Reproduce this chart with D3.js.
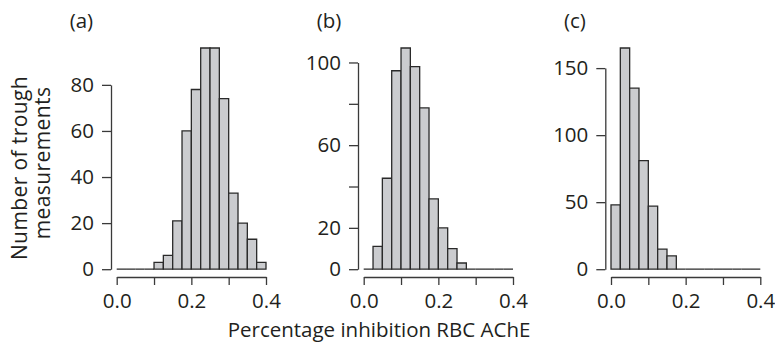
<!DOCTYPE html>
<html>
<head>
<meta charset="utf-8">
<script src="https://cdn.jsdelivr.net/npm/d3@7"></script>
<style>
  body { margin: 0; background: #fff; }
  text { font-family: "Open Sans", sans-serif; fill: #231f20; }
</style>
</head>
<body>
<div id="chart"></div>
<script>
// histogram bins (left edges), width 0.025
const bins = [0, 0.025, 0.05, 0.075, 0.1, 0.125, 0.15, 0.175, 0.2, 0.225, 0.25, 0.275, 0.3, 0.325, 0.35, 0.375];
const binWidth = 0.025;

const countsA = [0, 0, 0, 0, 3, 6, 21, 60, 78, 96, 96, 74, 33, 20, 13, 3];
const countsB = [0, 11, 44, 96, 107, 98, 78, 34, 20, 10, 3, 0, 0, 0, 0, 0];
const countsC = [48, 165, 135, 81, 47, 15, 10, 0, 0, 0, 0, 0, 0, 0, 0, 0];

const panelLabels = ["(a)", "(b)", "(c)"];

const yTicksA = [0, 20, 40, 60, 80];
const yLabelsA = ["0", "20", "40", "60", "80"];
const yTicksB = [0, 20, 40, 60, 80, 100];
const yLabelsB = ["0", "20", "", "60", "", "100"];
const yTicksC = [0, 50, 100, 150];
const yLabelsC = ["0", "50", "100", "150"];

const xTicks = [0, 0.1, 0.2, 0.3, 0.4];
const xLabels = ["0.0", "", "0.2", "", "0.4"];

const width = 775, height = 342;
const panelLeft = [116.7, 363.7, 611];
const panelW = 149.3;
const yZero = 269.2, yTop = 48;
const xAxisY = 277;
const fontSize = "20.5px";

const svg = d3.select("#chart").append("svg")
    .attr("width", width)
    .attr("height", height);

const panels = [
    {counts: countsA, ticks: yTicksA, labels: yLabelsA},
    {counts: countsB, ticks: yTicksB, labels: yLabelsB},
    {counts: countsC, ticks: yTicksC, labels: yLabelsC}
];

panels.forEach((p, i) => {
    const g = svg.append("g");
    const x0 = panelLeft[i];

    const xScale = d3.scaleLinear()
        .domain([0, 0.4])
        .range([x0, x0 + panelW]);

    const yScale = d3.scaleLinear()
        .domain([0, d3.max(p.counts)])
        .range([yZero, yTop]);

    // bars as paths so empty bins still show as a line on zero
    g.selectAll(".bar")
        .data(bins.map((b, j) => ({x: b, n: p.counts[j]})))
        .enter()
        .append("path")
        .attr("class", "bar")
        .attr("d", d => {
            const l = xScale(d.x), r = xScale(d.x + binWidth);
            return `M${l},${yScale(0)}V${yScale(d.n)}H${r}V${yScale(0)}Z`;
        })
        .attr("fill", "#cbcccf")
        .attr("stroke", "#2a2a2a")
        .attr("stroke-width", 1.3)
        .attr("stroke-linejoin", "miter");

    // y axis: only spans 0 .. last tick
    const topTick = p.ticks[p.ticks.length - 1];
    const yAxisScale = d3.scaleLinear()
        .domain([0, topTick])
        .range([yScale(0), yScale(topTick)]);

    const yAxis = d3.axisLeft(yAxisScale)
        .tickValues(p.ticks)
        .tickFormat((d, k) => p.labels[k])
        .tickSize(9)
        .tickPadding(8)
        .tickSizeOuter(0);

    g.append("g")
        .attr("transform", `translate(${x0 - 5.7},0)`)
        .call(yAxis)
        .call(a => a.selectAll("path, line").attr("stroke", "#3a3a3a").attr("stroke-width", 1.3))
        .call(a => a.selectAll("text").style("font-size", fontSize).style("font-family", "Open Sans"));

    const xAxis = d3.axisBottom(xScale)
        .tickValues(xTicks)
        .tickFormat((d, k) => xLabels[k])
        .tickSize(8)
        .tickPadding(8.5)
        .tickSizeOuter(0);

    g.append("g")
        .attr("transform", `translate(0,${xAxisY})`)
        .call(xAxis)
        .call(a => a.selectAll("path, line").attr("stroke", "#3a3a3a").attr("stroke-width", 1.3))
        .call(a => a.selectAll("text").style("font-size", fontSize).style("font-family", "Open Sans"));

    g.append("text")
        .attr("x", x0 - 47)
        .attr("y", 28)
        .style("font-size", fontSize)
        .text(panelLabels[i]);
});

// axis titles
svg.append("text")
    .attr("transform", "translate(27,168) rotate(-90)")
    .attr("text-anchor", "middle")
    .style("font-size", "21px")
    .style("letter-spacing", "0.4px")
    .text("Number of trough");

svg.append("text")
    .attr("transform", "translate(50,163) rotate(-90)")
    .attr("text-anchor", "middle")
    .style("font-size", "21px")
    .style("letter-spacing", "0.4px")
    .text("measurements");

svg.append("text")
    .attr("x", 379)
    .attr("y", 337)
    .attr("text-anchor", "middle")
    .style("font-size", "20.5px")
    .text("Percentage inhibition RBC AChE");
</script>
</body>
</html>
